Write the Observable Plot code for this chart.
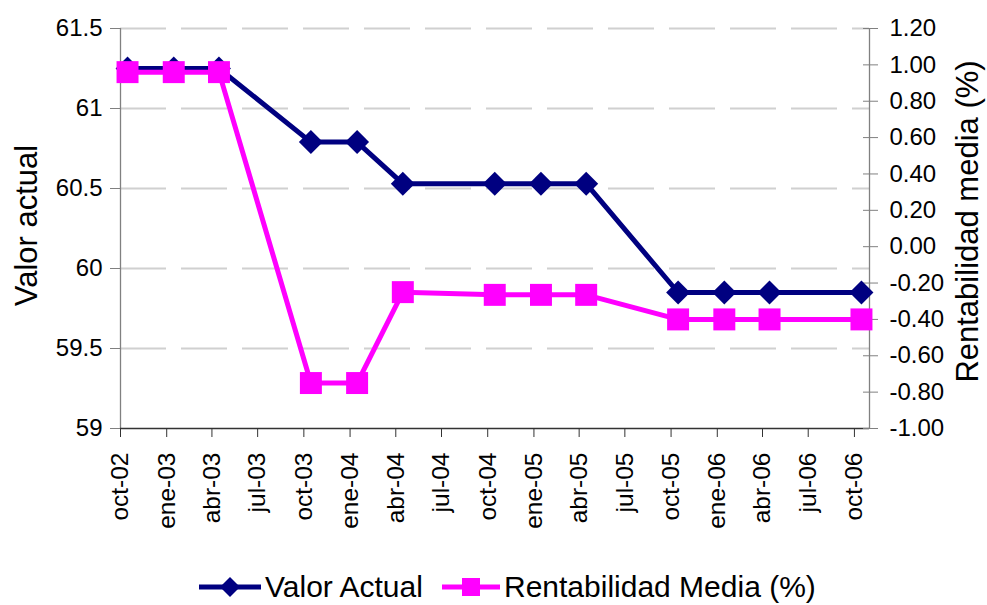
<!DOCTYPE html>
<html><head><meta charset="utf-8">
<script src="https://cdn.jsdelivr.net/npm/d3@7"></script>
<script src="https://cdn.jsdelivr.net/npm/@observablehq/plot@0.6"></script>
<style>
body{margin:0;background:#fff;font-family:"Liberation Sans",Arial,sans-serif;}
#legend{position:relative;width:987px;height:37px;font-size:30px;color:#000;}
.item{position:absolute;top:0;height:37px;display:flex;align-items:center;white-space:nowrap;}
.item span{margin-left:4px;line-height:1;}
</style>
</head><body>
<div id="chart"></div>
<div id="legend"></div>
<script>
// ---- data ----
const dates = ["2002-10-15","2003-01-15","2003-04-15","2003-10-15","2004-01-15","2004-04-15","2004-10-15","2005-01-15","2005-04-15","2005-10-15","2006-01-15","2006-04-15","2006-10-15"];
const valorActual = [61.25,61.25,61.25,60.79,60.79,60.53,60.53,60.53,60.53,59.85,59.85,59.85,59.85];
const rentabilidad = [0.96,0.96,0.96,-0.75,-0.75,-0.25,-0.265,-0.265,-0.265,-0.40,-0.40,-0.40,-0.40];
const xTickDates = ["2002-10-01","2003-01-01","2003-04-01","2003-07-01","2003-10-01","2004-01-01","2004-04-01","2004-07-01","2004-10-01","2005-01-01","2005-04-01","2005-07-01","2005-10-01","2006-01-01","2006-04-01","2006-07-01","2006-10-01"];
const xTickLabels = ["oct-02","ene-03","abr-03","jul-03","oct-03","ene-04","abr-04","jul-04","oct-04","ene-05","abr-05","jul-05","oct-05","ene-06","abr-06","jul-06","oct-06"];
const xDomain = ["2002-10-01","2006-10-31"];
const leftTicks = [59,59.5,60,60.5,61,61.5];
const leftTickLabels = ["59","59.5","60","60.5","61","61.5"];
const gridTicks = [59.5,60,60.5,61,61.5];
const leftDomain = [59,61.5];
const rightTicks = [-1,-0.8,-0.6,-0.4,-0.2,0,0.2,0.4,0.6,0.8,1.0,1.2];
const rightTickLabels = ["-1.00","-0.80","-0.60","-0.40","-0.20","0.00","0.20","0.40","0.60","0.80","1.00","1.20"];
const rightDomain = [-1,1.2];
const seriesNames = ["Valor Actual","Rentabilidad Media (%)"];
const colors = ["#000080","#FF00FF"];

// map right-axis values onto the left scale
const toLeft = v => leftDomain[0] + (v - rightDomain[0]) * (leftDomain[1]-leftDomain[0])/(rightDomain[1]-rightDomain[0]);

const dataA = dates.map((d,i)=>({date:new Date(d), y:valorActual[i]}));
const dataB = dates.map((d,i)=>({date:new Date(d), y:toLeft(rentabilidad[i])}));
const xTicks = xTickDates.map(d=>new Date(d));
const xLabelMap = new Map(xTicks.map((d,i)=>[+d, xTickLabels[i]]));
const leftLabelMap = new Map(leftTicks.map((d,i)=>[d, leftTickLabels[i]]));
const rightPos = rightTicks.map(toLeft);
const rightLabelMap = new Map(rightPos.map((p,i)=>[p, rightTickLabels[i]]));
const d0 = new Date(xDomain[0]), d1 = new Date(xDomain[1]);

const chart = Plot.plot({
  width: 987, height: 568,
  marginLeft: 120, marginRight: 118, marginTop: 28, marginBottom: 140,
  style: {fontFamily: '"Liberation Sans", Arial, sans-serif', background: "#fff", color: "#000"},
  x: {type: "utc", domain: [d0, d1]},
  y: {domain: leftDomain},
  marks: [
    Plot.ruleY(gridTicks, {stroke: "#d0d0d0", strokeWidth: 2, strokeDasharray: "46,15"}),
    Plot.ruleX([d0], {stroke: "#808080", strokeWidth: 1.3}),
    Plot.ruleX([d1], {stroke: "#808080", strokeWidth: 1.3}),
    Plot.ruleY([leftDomain[0]], {stroke: "#333", strokeWidth: 1.3}),
    Plot.axisY(leftTicks, {anchor: "left", tickSize: 10, tickPadding: 8, fontSize: 24, label: null, stroke: "#808080",
      tickFormat: d => leftLabelMap.get(d)}),
    Plot.axisY(rightPos, {anchor: "right", tickSize: 8, tickPadding: 12, fontSize: 24, label: null, stroke: "#808080",
      tickFormat: d => rightLabelMap.get(d)}),
    Plot.axisY(rightPos, {anchor: "right", tickSize: 7, dx: -7, label: null, stroke: "#808080", tickFormat: () => ""}),
    Plot.axisX(xTicks, {anchor: "bottom", tickSize: 9, tickPadding: 15, tickRotate: -90, fontSize: 24.5, label: null, stroke: "#333",
      tickFormat: d => xLabelMap.get(+d)}),
    Plot.text(["Valor actual"], {frameAnchor: "left", dx: -93, dy: -3, rotate: -90, fontSize: 31, textAnchor: "middle"}),
    Plot.text(["Rentabilidad media (%)"], {frameAnchor: "right", dx: 99, dy: -7, rotate: -90, fontSize: 31, textAnchor: "middle"}),
    Plot.line(dataA, {x: "date", y: "y", stroke: colors[0], strokeWidth: 5}),
    Plot.dot(dataA, {x: "date", y: "y", symbol: "diamond2", r: 10.8, fill: colors[0], stroke: null}),
    Plot.line(dataB, {x: "date", y: "y", stroke: colors[1], strokeWidth: 5}),
    Plot.dot(dataB, {x: "date", y: "y", symbol: "square", r: 12.4, fill: colors[1], stroke: null})
  ]
});
document.getElementById("chart").appendChild(chart);

// ---- legend ----
const legend = document.getElementById("legend");
const legendLeft = [199, 442];
const swatchW = [62, 58];
seriesNames.forEach((name, i) => {
  const item = document.createElement("div");
  item.className = "item";
  item.style.left = legendLeft[i] + "px";
  const w = swatchW[i], c = colors[i], m = w/2;
  const marker = i === 0
    ? `<path d="M${m},2 L${m+10},12 L${m},22 L${m-10},12 Z" fill="${c}"/>`
    : `<rect x="${m-9}" y="3" width="18" height="18" fill="${c}"/>`;
  item.innerHTML = `<svg width="${w}" height="24"><line x1="0" y1="12" x2="${w}" y2="12" stroke="${c}" stroke-width="5"/>${marker}</svg><span>${name}</span>`;
  legend.appendChild(item);
});
</script>
</body></html>
